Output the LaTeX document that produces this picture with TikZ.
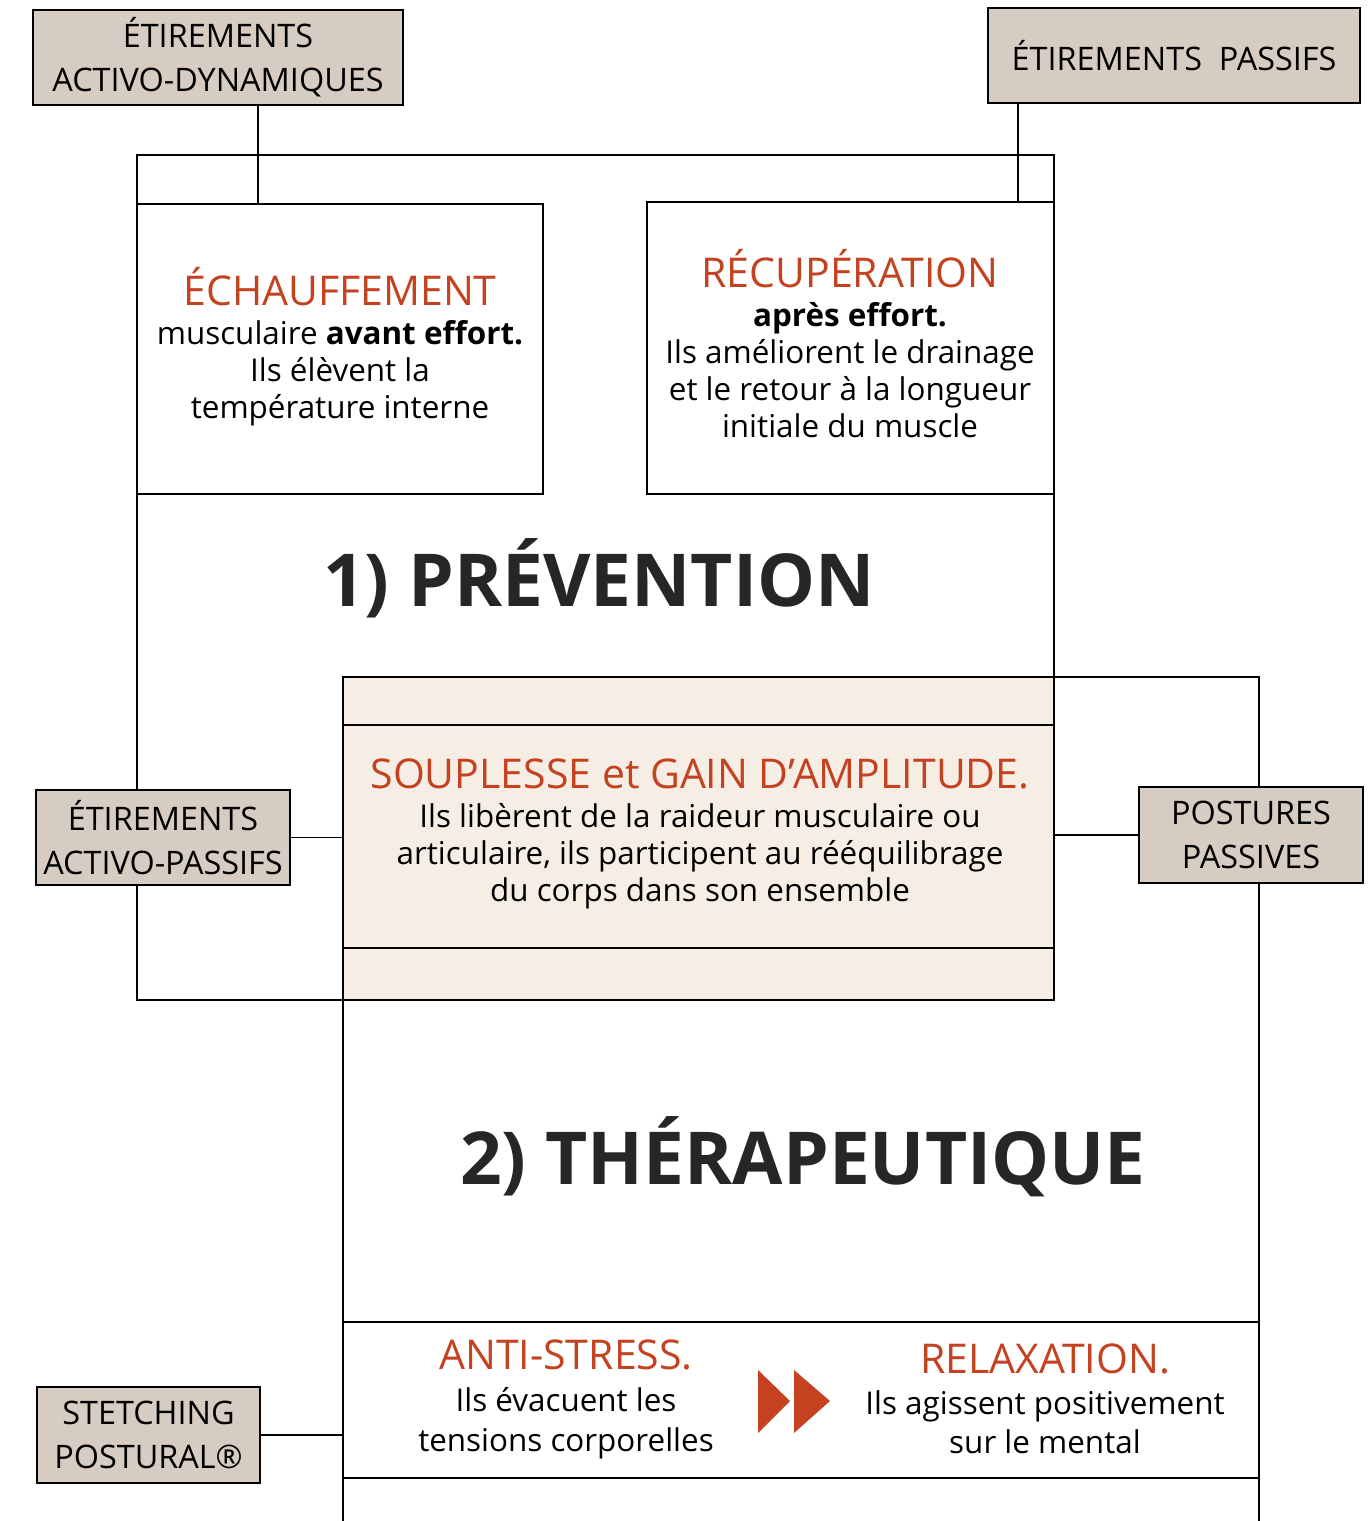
\documentclass[tikz,border=0pt]{standalone}
\usepackage{fontspec}
\setmainfont{Open Sans}
\usepackage{xcolor}
\usetikzlibrary{positioning}
\definecolor{tagfill}{RGB}{214,204,194}
\definecolor{softfill}{RGB}{246,238,228}
\definecolor{rouge}{RGB}{196,66,32}
\newcommand{\titre}[1]{{\color{rouge}\fontsize{20.5}{24}\selectfont #1}}

\begin{document}
\begin{tikzpicture}[x=0.5pt, y=-0.5pt,
  tag/.style={draw, line width=0.9pt, fill=tagfill, inner sep=0pt, align=center,
    font=\fontsize{16.2}{22}\selectfont},
  box/.style={draw, line width=0.8pt, inner sep=0pt},
  frame/.style={draw, line width=1.2pt},
  txt/.style={align=center, inner sep=0pt, font=\fontsize{15.7}{18.5}\selectfont},
  big/.style={inner sep=0pt, font=\fontsize{36.5}{40}\selectfont\bfseries, text=black!85},
  link/.style={line width=0.6pt}]
  \useasboundingbox[fill=white] (0,0) rectangle (1367,1521);

  % souplesse band (drawn first, the frames go over it)
  \node[fill=softfill, minimum width=355.5pt, minimum height=161.5pt, inner sep=0pt] (soupl) at (698.5,838.5) {};

  % 1) prevention
  \node[frame, minimum width=458.5pt, minimum height=422.5pt] (prev) at (595.5,577.5) {};
  \node[box, minimum width=203pt, minimum height=145pt] (echauf) at (340,349) {};
  \node[box, minimum width=203.5pt, minimum height=146pt] (recup) at (850.5,348) {};
  \node[big] (ttprev) at (599,578) {1) PRÉVENTION};

  % 2) therapeutique, open at the bottom
  \coordinate (thnw) at (343,677);
  \coordinate (thne) at (1259,677);
  \draw[frame] (thnw |- 0,1521) -- (thnw) -- (thne) -- (thne |- 0,1521);
  \draw[box] (soupl.north west |- 0,725) -- (soupl.north east |- 0,725);
  \draw[box] (soupl.north west |- 0,948) -- (soupl.north east |- 0,948);
  \draw[box] (thnw |- 0,1322) -- (thne |- 0,1322);
  \draw[box] (thnw |- 0,1478) -- (thne |- 0,1478);
  \node[big] (ttthera) at (803,1157) {2) THÉRAPEUTIQUE};

  % texts
  \node[txt] (echtxt) at (340,347) {\titre{ÉCHAUFFEMENT}\\[1pt]
    musculaire \textbf{avant effort.}\\ Ils élèvent la\\ température interne};
  \node[txt] (rectxt) at (850,344) {\titre{RÉCUPÉRATION}\\[1pt]
    \textbf{après effort.}\\ Ils améliorent le drainage\\ et le retour à la longueur\\ initiale du muscle};
  \node[txt] (soutxt) at (700,834) {\titre{SOUPLESSE et GAIN D’AMPLITUDE.}\\[1pt]
    Ils libèrent de la raideur musculaire ou\\ articulaire, ils participent au rééquilibrage\\ du corps dans son ensemble};
  \node[txt, font=\fontsize{15.7}{20}\selectfont] (anttxt) at (566,1399) {\titre{ANTI-STRESS.}\\[1pt]
    Ils évacuent les\\ tensions corporelles};
  \node[txt, font=\fontsize{15.7}{19.5}\selectfont] (reltxt) at (1045,1399) {\titre{RELAXATION.}\\[1pt]
    Ils agissent positivement\\ sur le mental};
  \fill[rouge] (758,1370) -- (790,1401) -- (758,1433) -- cycle;
  \fill[rouge] (794,1370) -- (830,1401) -- (794,1433) -- cycle;

  % labels
  \node[tag, minimum width=185pt, minimum height=47.5pt] (adyn) at (218,57.5) {ÉTIREMENTS\\ ACTIVO-DYNAMIQUES};
  \node[tag, minimum width=186pt, minimum height=47.5pt] (passif) at (1174,55.5) {ÉTIREMENTS~~PASSIFS};
  \node[tag, minimum width=127pt, minimum height=47.5pt] (apass) at (163,837.5) {ÉTIREMENTS\\ ACTIVO-PASSIFS};
  \node[tag, minimum width=112pt, minimum height=48pt] (postur) at (1251,835) {POSTURES\\ PASSIVES};
  \node[tag, minimum width=111.5pt, minimum height=48pt] (stetch) at (148.5,1435) {STETCHING\\ POSTURAL®};

  % connectors
  \coordinate (c1) at (258,0);
  \coordinate (c2) at (1018,0);
  \draw[link] (c1 |- adyn.south) -- (c1 |- echauf.north);
  \draw[link] (c2 |- passif.south) -- (c2 |- recup.north);
  \draw[link] (apass.east) -- (apass.east -| soupl.west);
  \draw[link] (postur.west) -- (postur.west -| soupl.east);
  \draw[link] (stetch.east) -- (stetch.east -| thnw);
\end{tikzpicture}
\end{document}
